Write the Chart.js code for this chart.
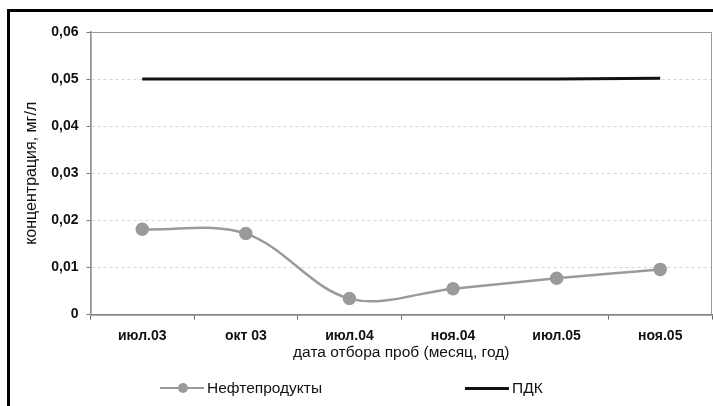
<!DOCTYPE html>
<html>
<head>
<meta charset="utf-8">
<script src="https://cdn.jsdelivr.net/npm/chart.js@4"></script>
<style>
  html, body { margin: 0; padding: 0; background: #fff; }
  #wrap { position: relative; width: 713px; height: 406px; overflow: hidden; }
  #frame { position: absolute; left: 7px; top: 9px; right: -5px; bottom: -5px; border-top: 3px solid #000; border-left: 3px solid #000; }
  #chart { position: absolute; left: 0; top: 0; }
  #legend { position: absolute; top: 378px; left: 0; width: 713px; height: 20px; font-family: "Liberation Sans", Arial, sans-serif; font-size: 15.5px; color: #111; }
  .item { position: absolute; top: 0; display: flex; align-items: center; height: 20px; }
  .sample { position: relative; width: 44px; height: 20px; margin-right: 3px; }
  .sample .ln { position: absolute; left: 0; right: 0; top: 9px; }
  .sample .dot { position: absolute; left: 18px; top: 5px; width: 10px; height: 10px; border-radius: 50%; }
</style>
</head>
<body>
<div id="wrap">
  <div id="frame"></div>
  <canvas id="chart" width="720" height="406"></canvas>
  <div id="legend"></div>
</div>
<script>
const categories = ["июл.03", "окт 03", "июл.04", "ноя.04", "июл.05", "ноя.05"];
const nefteprodukty = [0.0181, 0.0172, 0.0034, 0.0055, 0.0077, 0.0096];
const pdk = [0.05, 0.05, 0.05, 0.05, 0.05, 0.0502];
const yTicks = [0, 0.01, 0.02, 0.03, 0.04, 0.05, 0.06];

const legendPos = [160, 465];

// серая рамка вокруг области построения
const frameBox = {
    id: "frameBox",
    beforeDatasetsDraw(chart) {
        const { ctx, chartArea } = chart;
        ctx.save();
        ctx.strokeStyle = "#9a9a9a";
        ctx.lineWidth = 1;
        ctx.strokeRect(chartArea.left + 0.5, chartArea.top + 0.5, chartArea.right - chartArea.left - 1, chartArea.bottom - chartArea.top);
        ctx.restore();
    },
};

const htmlLegend = {
    id: "htmlLegend",
    afterUpdate(chart) {
        const box = document.getElementById("legend");
        box.innerHTML = "";
        chart.data.datasets.forEach((ds, i) => {
            const item = document.createElement("div");
            item.className = "item";
            item.style.left = legendPos[i] + "px";
            const sample = document.createElement("div");
            sample.className = "sample";
            const ln = document.createElement("div");
            ln.className = "ln";
            ln.style.borderTop = ds.borderWidth + "px solid " + ds.borderColor;
            sample.appendChild(ln);
            if (ds.pointRadius > 0) {
                const dot = document.createElement("div");
                dot.className = "dot";
                dot.style.background = ds.pointBackgroundColor;
                sample.appendChild(dot);
            }
            const label = document.createElement("span");
            label.textContent = ds.label;
            item.appendChild(sample);
            item.appendChild(label);
            box.appendChild(item);
        });
    },
};

new Chart(document.getElementById("chart"), {
    type: "line",
    data: {
        labels: categories,
        datasets: [
            {
                label: "Нефтепродукты",
                data: nefteprodukty,
                borderColor: "#9a9a9a",
                backgroundColor: "#9a9a9a",
                pointBackgroundColor: "#9a9a9a",
                pointBorderColor: "#9a9a9a",
                borderWidth: 2.5,
                pointRadius: 5.5,
                tension: 0.35,
            },
            {
                label: "ПДК",
                data: pdk,
                borderColor: "#111111",
                backgroundColor: "#111111",
                borderWidth: 3,
                pointRadius: 0,
                tension: 0,
            },
        ],
    },
    options: {
        responsive: false,
        animation: false,
        layout: { padding: { left: 18, top: 32, right: 0, bottom: 40 } },
        plugins: {
            legend: { display: false },
            tooltip: { enabled: false },
        },
        scales: {
            x: {
                offset: true,
                grid: { offset: true, drawOnChartArea: false, tickLength: 5, tickColor: "#666", color: "#666" },
                border: { color: "#777", width: 1.5 },
                ticks: {
                    color: "#111",
                    font: { family: "Liberation Sans", size: 14, weight: "bold" },
                    padding: 8,
                    maxRotation: 0,
                },
                title: {
                    display: true,
                    text: "дата отбора проб (месяц, год)",
                    color: "#111",
                    font: { family: "Liberation Sans", size: 15.5 },
                    padding: { top: -9 },
                },
            },
            y: {
                min: 0,
                max: 0.06,
                afterBuildTicks: (axis) => {
                    axis.ticks = yTicks.map((v) => ({ value: v }));
                },
                grid: { color: "#d4d4d4", tickColor: "#777", tickLength: 4 },
                border: { color: "#888", width: 1.5, dash: [3, 3] },
                ticks: {
                    color: "#111",
                    font: { family: "Liberation Sans", size: 14, weight: "bold" },
                    padding: 8,
                    callback: (v) => (v === 0 ? "0" : v.toFixed(2).replace(".", ",")),
                },
                title: {
                    display: true,
                    text: "концентрация, мг/л",
                    color: "#111",
                    font: { family: "Liberation Sans", size: 16 },
                    padding: { bottom: 2 },
                },
            },
        },
    },
    plugins: [frameBox, htmlLegend],
});
</script>
</body>
</html>
